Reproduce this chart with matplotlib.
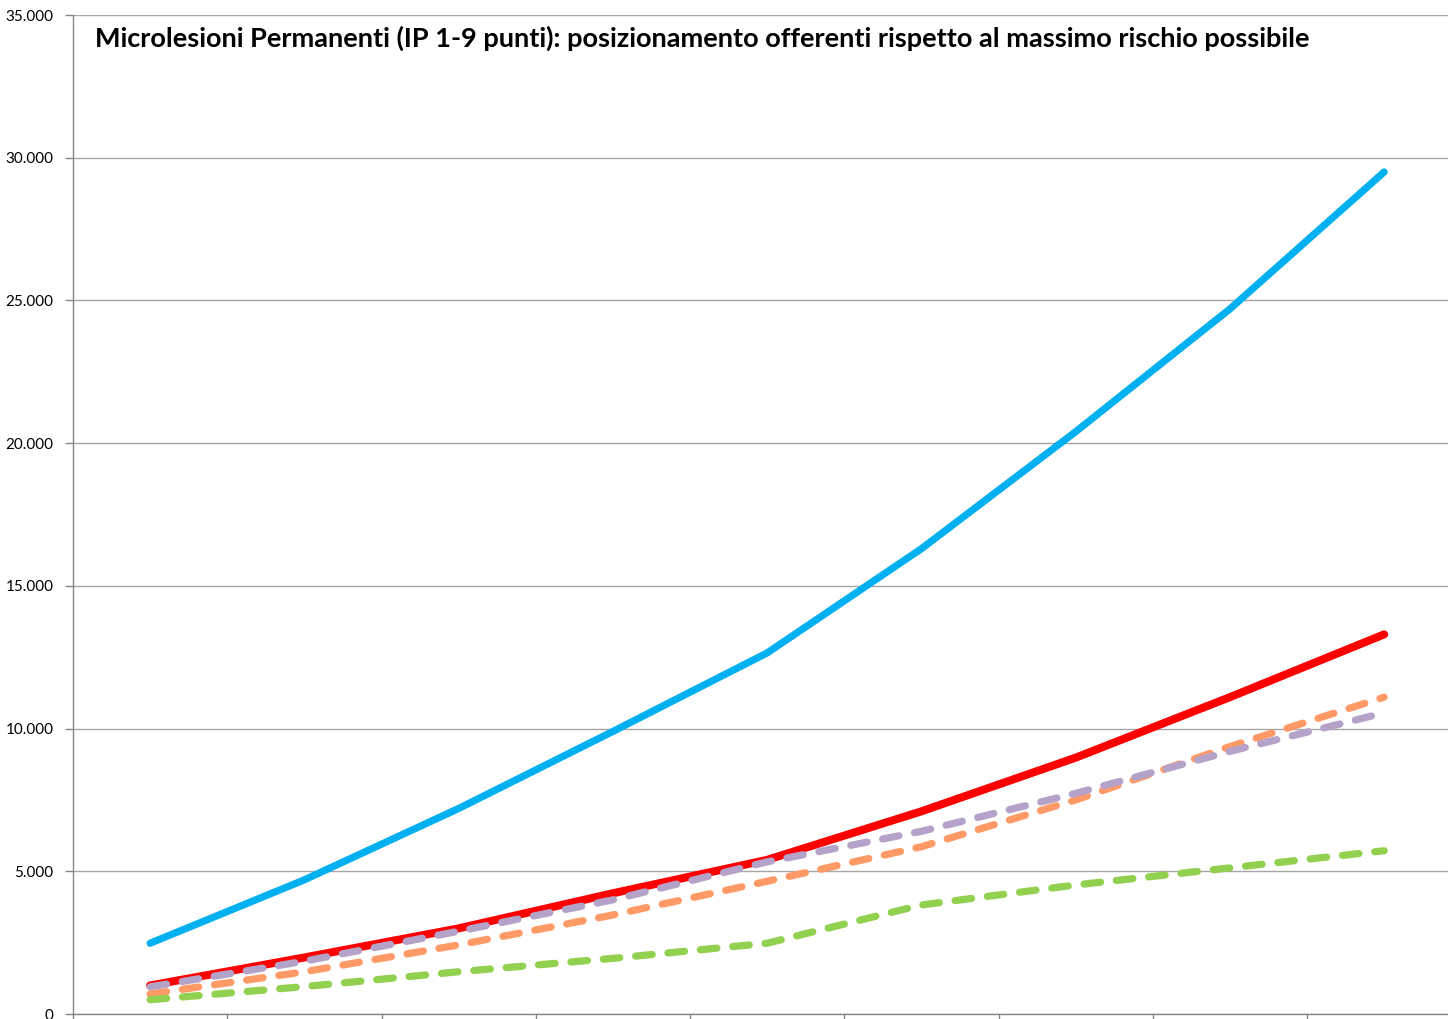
import matplotlib.pyplot as plt
from matplotlib.ticker import FuncFormatter, MultipleLocator

# Chart data
punti = [1, 2, 3, 4, 5, 6, 7, 8, 9]
massimo_rischio = [2480, 4700, 7200, 9900, 12650, 16300, 20400, 24700, 29500]
offerente_rosso = [1000, 1980, 3000, 4230, 5400, 7100, 8980, 11100, 13300]
offerente_arancio = [700, 1480, 2420, 3470, 4650, 5860, 7500, 9370, 11100]
offerente_viola = [950, 1850, 2900, 4000, 5330, 6400, 7730, 9200, 10550]
offerente_verde = [500, 960, 1480, 1950, 2480, 3820, 4520, 5120, 5720]
y_ticks = [0, 5000, 10000, 15000, 20000, 25000, 30000, 35000]

title = ("Microlesioni Permanenti (IP 1-9 punti): posizionamento offerenti "
         "rispetto al massimo rischio possibile")

plt.rcParams['font.family'] = ['Lato', 'DejaVu Sans']

fig = plt.figure(figsize=(14.48, 10.19), dpi=100)
ax = fig.add_axes([73 / 1448, 5 / 1019, 1375 / 1448, 999 / 1019])

dash = (0, (2.3, 2.2))
lw = 5.2

# solid lines
ax.plot(punti, offerente_rosso, color="#FF0000", lw=5.8,
        solid_capstyle="round", solid_joinstyle="round", zorder=3)
# dashed lines
ax.plot(punti, offerente_arancio, color="#FF9A66", lw=lw, linestyle=dash,
        dash_capstyle="round", zorder=4)
ax.plot(punti, offerente_viola, color="#B4A2C9", lw=lw, linestyle=dash,
        dash_capstyle="round", zorder=5)
ax.plot(punti, offerente_verde, color="#92D050", lw=lw, linestyle=dash,
        dash_capstyle="round", zorder=5)
ax.plot(punti, massimo_rischio, color="#00B0F0", lw=5.2,
        solid_capstyle="round", solid_joinstyle="round", zorder=6)

ax.set_xlim(0.5, 0.5 + 1375 / 154.25)
ax.set_ylim(0, 35000)

# y axis: gridlines and thousands with dots
ax.set_yticks(y_ticks)
ax.yaxis.set_major_formatter(FuncFormatter(lambda v, p: f"{int(v):,}".replace(",", ".")))
ax.grid(axis="y", color="#A6A6A6", lw=1.0)
ax.set_axisbelow(True)

# x axis: ticks at category boundaries, no labels
ax.xaxis.set_major_locator(MultipleLocator(1, offset=0.5))
ax.set_xticklabels([])

for s in ["top", "right"]:
    ax.spines[s].set_visible(False)
for s in ["left", "bottom"]:
    ax.spines[s].set_color("#868686")
    ax.spines[s].set_linewidth(1.0)

ax.tick_params(axis="y", length=6, width=1, color="#868686", labelsize=11,
               labelcolor="black", pad=8)
ax.tick_params(axis="x", length=6, width=1, color="#868686")

fig.text(95 / 1448, 1 - 38 / 1019, title, fontsize=19.5, fontweight="bold",
         ha="left", va="center", color="black")

fig.savefig("out.png", dpi=100)
